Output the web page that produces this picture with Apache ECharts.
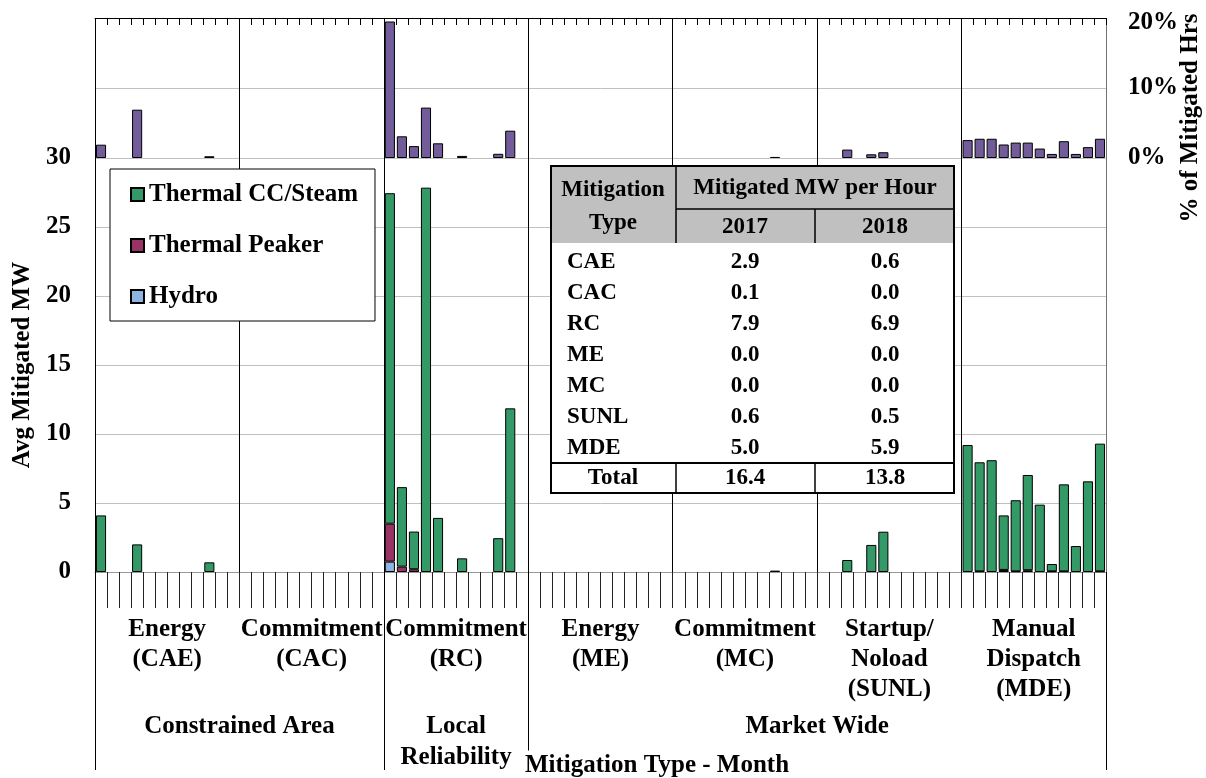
<!DOCTYPE html>
<html><head><meta charset="utf-8">
<script src="https://cdn.jsdelivr.net/npm/echarts@6/dist/echarts.min.js"></script>
<style>html,body{margin:0;padding:0;background:#fff}#c{width:1206px;height:778px}</style>
</head><body><div id="c"></div>
<script>
const FONT = '"Liberation Serif","Times New Roman",serif';
const months = ['Jan','Feb','Mar','Apr','May','Jun','Jul','Aug','Sep','Oct','Nov','Dec'];
const groups = ['CAE','CAC','RC','ME','MC','SUNL','MDE'];
const groupLabels = ['Energy\n(CAE)','Commitment\n(CAC)','Commitment\n(RC)','Energy\n(ME)','Commitment\n(MC)','Startup/\nNoload\n(SUNL)','Manual\nDispatch\n(MDE)'];
const regions = ['Constrained Area','Local\nReliability','Market Wide'];
const regionGroupCounts = [2,1,4];
const categories = groups.flatMap(g => months.map(m => g + '-' + m));

// Avg mitigated MW by month (CAE, CAC, RC, ME, MC, SUNL, MDE; Jan..Dec each)
const ccSteam = [
  4.1,0,0,2.0,0,0,0,0,0,0.7,0,0,
  0,0,0,0,0,0,0,0,0,0,0,0,
  23.95,5.76,2.73,27.85,3.92,0,0.99,0,0,2.45,11.86,0,
  0,0,0,0,0,0,0,0,0,0,0,0,
  0,0,0,0,0,0,0,0,0.1,0,0,0,
  0,0,0.87,0,1.96,2.92,0,0,0,0,0,0,
  9.2,7.9,8.1,3.95,5.15,6.9,4.88,0.53,6.3,1.88,6.57,9.25
];
const peaker = [
  0,0,0,0,0,0,0,0,0,0,0,0,
  0,0,0,0,0,0,0,0,0,0,0,0,
  2.75,0.39,0.2,0,0,0,0,0,0,0,0,0,
  0,0,0,0,0,0,0,0,0,0,0,0,
  0,0,0,0,0,0,0,0,0,0,0,0,
  0,0,0,0,0,0,0,0,0,0,0,0,
  0,0.05,0,0.15,0.05,0.13,0,0.05,0.05,0,0,0.05
];
const hydro = [
  0,0,0,0,0,0,0,0,0,0,0,0,
  0,0,0,0,0,0,0,0,0,0,0,0,
  0.75,0,0,0,0,0,0,0,0,0,0,0,
  0,0,0,0,0,0,0,0,0,0,0,0,
  0,0,0,0,0,0,0,0,0,0,0,0,
  0,0,0,0,0,0,0,0,0,0,0,0,
  0,0,0,0,0,0,0,0,0,0,0,0
];
// % of mitigated hours
const pctHrs = [
  1.9,0,0,6.9,0,0,0,0,0,0.25,0,0,
  0,0,0,0,0,0,0,0,0,0,0,0,
  19.5,3.1,1.7,7.2,2.1,0,0.3,0,0,0.6,3.9,0,
  0,0,0,0,0,0,0,0,0,0,0,0,
  0,0,0,0,0,0,0,0,0.15,0,0,0,
  0,0,1.2,0,0.53,0.82,0,0,0,0,0,0,
  2.56,2.75,2.75,1.93,2.2,2.2,1.35,0.58,2.4,0.58,1.55,2.75
];
const mwMax = 30, mwInterval = 5;
const pctMax = 20, pctInterval = 10;

// inset table
const tableTypes = ['CAE','CAC','RC','ME','MC','SUNL','MDE'];
const table2017 = ['2.9','0.1','7.9','0.0','0.0','0.6','5.0'];
const table2018 = ['0.6','0.0','6.9','0.0','0.0','0.5','5.9'];
const tableTotals = ['16.4','13.8'];

const nz = a => a.map(v => v === 0 ? null : v);
const bounds = [0];
regionGroupCounts.forEach(c => bounds.push(bounds[bounds.length - 1] + c * months.length));
const centers = regionGroupCounts.map((c, i) => (bounds[i] + bounds[i + 1]) / 2);

const txt = {fontFamily: FONT, fontWeight: 'bold', fontSize: 25, color: '#000'};
const splitColors = ['#000','#000','#000','#000','#000','#000','#000','#707070'];

function T(text, x, y, align, size, extra) {
  return Object.assign({type: 'text', z: 102, style: Object.assign({
    text: text, x: x, y: y, font: 'bold ' + (size || 23) + 'px ' + FONT,
    fill: '#000', align: align || 'center', verticalAlign: 'middle',
    textAlign: align || 'center', textVerticalAlign: 'middle'
  }, extra || {})});
}
function L(x1, y1, x2, y2, w) {
  return {type: 'line', z: 101, shape: {x1: x1, y1: y1, x2: x2, y2: y2}, style: {stroke: '#000', lineWidth: w || 1.5}};
}
const TL = 551, TR = 954, TT = 166, TB = 493, C1 = 676, C2 = 815, HMID = 209, HB = 243, TOT = 463;
const tableEls = [
  {type: 'rect', z: 100, shape: {x: TL, y: TT, width: TR - TL, height: TB - TT}, style: {fill: '#fff'}},
  {type: 'rect', z: 100, shape: {x: TL, y: TT, width: TR - TL, height: HB - TT}, style: {fill: '#c0c0c0'}},
  L(C1, TT, C1, HB), L(C1, TOT, C1, TB), L(C2, HMID, C2, HB), L(C2, TOT, C2, TB),
  L(C1, HMID, TR, HMID), L(TL, TOT, TR, TOT, 2),
  {type: 'rect', z: 101, shape: {x: TL, y: TT, width: TR - TL, height: TB - TT}, style: {fill: null, stroke: '#000', lineWidth: 2}},
  T('Mitigation', 613, 190), T('Type', 613, 223),
  T('Mitigated MW per Hour', 815, 188), T('2017', 745, 227), T('2018', 885, 227),
  T('Total', 613, 478), T(tableTotals[0], 745, 478), T(tableTotals[1], 885, 478)
];
tableTypes.forEach((t, i) => {
  const y = 262 + i * 31;
  tableEls.push(T(t, 567, y, 'left'), T(table2017[i], 745, y), T(table2018[i], 885, y));
});

const barStyle = c => ({color: c, borderColor: '#000', borderWidth: 1});
const noLabel = {show: true, interval: 0, formatter: () => '', margin: 0};
const option = {
  animation: false,
  backgroundColor: '#fff',
  grid: [
    {left: 95, right: 100, top: 18, height: 140},
    {left: 95, right: 100, top: 158, bottom: 206}
  ],
  legend: {
    data: ['Thermal CC/Steam', 'Thermal Peaker', 'Hydro'],
    orient: 'vertical', left: 110, top: 169, padding: [13, 17, 12, 20],
    itemGap: 26, itemWidth: 13, itemHeight: 13, icon: 'rect',
    backgroundColor: '#fff', borderColor: '#000', borderWidth: 1, selectedMode: false,
    textStyle: Object.assign({lineHeight: 25}, txt), z: 10
  },
  xAxis: [
    {type: 'category', gridIndex: 1, data: categories, position: 'bottom',
     axisLine: {show: true, onZero: false, lineStyle: {color: '#999'}},
     axisTick: {show: true, interval: 0, length: 36, lineStyle: {color: '#222'}},
     axisLabel: noLabel, splitLine: {show: false}},
    {type: 'category', gridIndex: 1, data: groupLabels, position: 'bottom',
     axisLine: {show: false, onZero: false},
     axisTick: {interval: 0, length: 132, lineStyle: {color: '#000'}},
     axisLabel: Object.assign({interval: 0, margin: 43, lineHeight: 30}, txt),
     splitLine: {show: true, interval: 0, lineStyle: {color: splitColors, width: 1}}},
    {type: 'value', gridIndex: 1, min: 0, max: bounds[bounds.length - 1], position: 'bottom',
     axisLine: {show: false, onZero: false}, splitLine: {show: false},
     axisTick: {show: true, customValues: bounds, length: 198, lineStyle: {color: '#000'}},
     axisLabel: Object.assign({customValues: centers, margin: 139, lineHeight: 31,
       formatter: v => regions[centers.indexOf(v)] || ''}, txt)},
    {type: 'category', gridIndex: 0, data: categories, position: 'top',
     axisLine: {show: true, onZero: false, lineStyle: {color: '#000'}},
     axisTick: {show: true, interval: 0, inside: true, length: 7, lineStyle: {color: '#000'}},
     axisLabel: noLabel, splitLine: {show: false}},
    {type: 'category', gridIndex: 0, data: groups, position: 'top',
     axisLine: {show: false, onZero: false}, axisTick: {show: false}, axisLabel: {show: false},
     splitLine: {show: true, interval: 0, lineStyle: {color: splitColors, width: 1}}}
  ],
  yAxis: [
    {type: 'value', gridIndex: 0, position: 'right', min: 0, max: pctMax, interval: pctInterval,
     axisLine: {show: false}, axisTick: {show: false},
     axisLabel: Object.assign({margin: 22,
       formatter: v => v === pctMax ? '{t|' + v + '%}' : v + '%',
       rich: {t: Object.assign({padding: [10, 0, 0, 0]}, txt)}}, txt),
     splitLine: {lineStyle: {color: '#c0c0c0'}}},
    {type: 'value', gridIndex: 1, position: 'left', min: 0, max: mwMax, interval: mwInterval,
     axisLine: {show: false}, axisTick: {show: false},
     axisLabel: Object.assign({margin: 24}, txt),
     splitLine: {lineStyle: {color: '#c0c0c0'}},
     name: 'Avg Mitigated MW', nameLocation: 'middle', nameGap: 60, nameRotate: 90,
     nameTextStyle: txt}
  ],
  series: [
    {name: 'Hydro', type: 'bar', xAxisIndex: 0, yAxisIndex: 1, stack: 'mw', data: nz(hydro),
     itemStyle: barStyle('#8DB4E2'), barCategoryGap: '16%'},
    {name: 'Thermal Peaker', type: 'bar', xAxisIndex: 0, yAxisIndex: 1, stack: 'mw', data: nz(peaker),
     itemStyle: barStyle('#993366'), barCategoryGap: '16%'},
    {name: 'Thermal CC/Steam', type: 'bar', xAxisIndex: 0, yAxisIndex: 1, stack: 'mw', data: nz(ccSteam),
     itemStyle: barStyle('#339966'), barCategoryGap: '16%'},
    {name: '% of Mitigated Hrs', type: 'bar', xAxisIndex: 3, yAxisIndex: 0, data: nz(pctHrs),
     itemStyle: barStyle('#725C9A'), barCategoryGap: '16%'}
  ],
  graphic: [
    {type: 'group', children: tableEls},
    T('% of Mitigated Hrs', 0, 0, 'center', 25, {}),
    T('Mitigation Type - Month', 657, 766, 'center', 25, {backgroundColor: '#fff', padding: [6, 4, 0, 4]})
  ]
};
// rotate right-axis title
option.graphic[1].x = 1191; option.graphic[1].y = 118; option.graphic[1].rotation = Math.PI / 2;

const chart = echarts.init(document.getElementById('c'));
chart.setOption(option);
</script></body></html>
